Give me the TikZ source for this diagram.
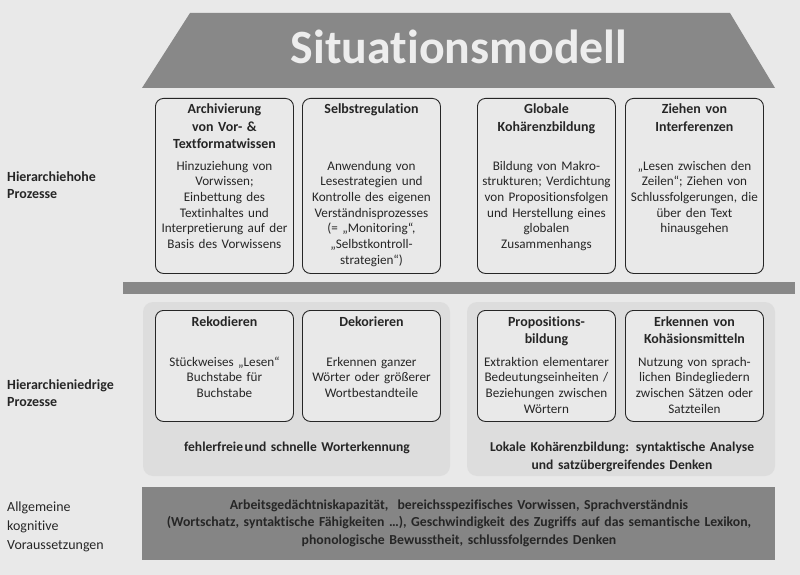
\documentclass[tikz,border=0pt]{standalone}
\usepackage{fontspec}
\setmainfont[Ligatures={NoCommon,NoContextual},RawFeature={-liga;-clig;-dlig}]{Carlito}
\usetikzlibrary{positioning}
\definecolor{bgcol}{HTML}{E9E9E9}
\definecolor{darkgrey}{HTML}{888888}
\definecolor{panelcol}{HTML}{DDDDDD}
\definecolor{textcol}{HTML}{262626}
\definecolor{titlecol}{HTML}{EDEDED}

\begin{document}
\begin{tikzpicture}[x=1bp,y=-1bp,
    procbox/.style={draw=textcol, line width=0.9bp, rounded corners=8bp, fill=bgcol,
        inner sep=0pt, minimum width=138bp, anchor=north west},
    boxtitle/.style={anchor=base, text width=136bp, align=center, inner sep=0pt,
        font=\fontsize{14}{17.5}\selectfont\bfseries, text=textcol},
    boxbody/.style={anchor=base, text width=138bp, align=center, inner sep=0pt,
        font=\fontsize{13.2}{15.8}\selectfont, text=textcol},
    sidelabel/.style={anchor=base west, align=left, inner sep=0pt, text=textcol}]

    \useasboundingbox[fill=bgcol] (0,0) rectangle (800,575);

    % Situationsmodell
    \fill[darkgrey] (190,13) -- (730,13) -- (775,88) -- (142,88) -- cycle;
    \node[text=titlecol, font=\fontsize{48}{50}\selectfont\bfseries] (sitmod) at (459,47) {Situationsmodell};

    % hierarchiehohe Prozesse
    \node[procbox, minimum height=175bp] (archiv) at (155,98) {};
    \node[procbox, minimum height=175bp] (selbst) at (302,98) {};
    \node[procbox, minimum height=175bp] (global) at (477,98) {};
    \node[procbox, minimum height=175bp] (interf) at (625,98) {};

    \node[boxtitle] (archivT) at ([yshift=-16bp]archiv.north) {Archivierung\\von Vor- \&\\Textformatwissen};
    \node[boxbody]  (archivB) at ([yshift=-72bp]archiv.north) {Hinzuziehung von\\Vorwissen;\\Einbettung des\\Textinhaltes und\\Interpretierung auf der\\Basis des Vorwissens};
    \node[boxtitle] (selbstT) at ([yshift=-16bp]selbst.north) {Selbstregulation};
    \node[boxbody]  (selbstB) at ([yshift=-72bp]selbst.north) {Anwendung von\\Lesestrategien und\\Kontrolle des eigenen\\Verständnisprozesses\\(= „Monitoring“,\\„Selbstkontroll-\\strategien“)};
    \node[boxtitle] (globalT) at ([yshift=-16bp]global.north) {Globale\\Kohärenzbildung};
    \node[boxbody]  (globalB) at ([yshift=-72bp]global.north) {Bildung von Makro-\\strukturen; Verdichtung\\von Propositionsfolgen\\und Herstellung eines\\globalen\\Zusammenhangs};
    \node[boxtitle] (interfT) at ([yshift=-16bp]interf.north) {Ziehen von\\Interferenzen};
    \node[boxbody]  (interfB) at ([yshift=-72bp]interf.north) {„Lesen zwischen den\\Zeilen“; Ziehen von\\Schlussfolgerungen, die\\über den Text\\hinausgehen};

    \fill[darkgrey] (123,282) rectangle (795,294);

    % hierarchieniedrige Prozesse
    \fill[panelcol, rounded corners=10bp] (143,302) rectangle (450,476);
    \fill[panelcol, rounded corners=10bp] (467,302) rectangle (775,476);

    \node[procbox, minimum height=111bp] (rekod) at (155,310) {};
    \node[procbox, minimum height=111bp] (dekor) at (302,310) {};
    \node[procbox, minimum height=111bp] (propo) at (477,310) {};
    \node[procbox, minimum height=111bp] (kohaes) at (625,310) {};

    \node[boxtitle] (rekodT) at ([yshift=-16bp]rekod.north) {Rekodieren};
    \node[boxbody]  (rekodB) at ([yshift=-56bp]rekod.north) {Stückweises „Lesen“\\Buchstabe für\\Buchstabe};
    \node[boxtitle] (dekorT) at ([yshift=-16bp]dekor.north) {Dekorieren};
    \node[boxbody]  (dekorB) at ([yshift=-56bp]dekor.north) {Erkennen ganzer\\Wörter oder größerer\\Wortbestandteile};
    \node[boxtitle] (propoT) at ([yshift=-16bp]propo.north) {Propositions-\\bildung};
    \node[boxbody]  (propoB) at ([yshift=-56bp]propo.north) {Extraktion elementarer\\Bedeutungseinheiten /\\Beziehungen zwischen\\Wörtern};
    \node[boxtitle] (kohaesT) at ([yshift=-16bp]kohaes.north) {Erkennen von\\Kohäsionsmitteln};
    \node[boxbody]  (kohaesB) at ([yshift=-56bp]kohaes.north) {Nutzung von sprach-\\lichen Bindegliedern\\zwischen Sätzen oder\\Satzteilen};

    \node[boxtitle, text width=300bp, font=\fontsize{13.6}{19}\selectfont\bfseries] (wortL) at (297,451) {fehlerfreie\hspace{1.5bp}und schnelle Worterkennung};
    \node[boxtitle, text width=300bp, font=\fontsize{13.6}{19}\selectfont\bfseries] (lokalL) at (622,451) {Lokale Kohärenzbildung: syntaktische Analyse\\und satzübergreifendes Denken};

    % Allgemeine Voraussetzungen
    \fill[darkgrey!98!black] (142,487) rectangle (775,560);
    \node[boxtitle, text width=620bp, font=\fontsize{13.8}{18}\selectfont\bfseries, text=black!85] (vorausB) at (459,509)
        {Arbeitsgedächtniskapazität,\ \ bereichsspezifisches Vorwissen, Sprachverständnis\\(Wortschatz, syntaktische Fähigkeiten …), Geschwindigkeit des Zugriffs auf das semantische Lexikon,\\phonologische Bewusstheit, schlussfolgerndes Denken};

    % Seitenbeschriftung
    \node[sidelabel, font=\fontsize{14}{18}\selectfont\bfseries] (hochL) at (7,199) {Hierarchiehohe\\Prozesse};
    \node[sidelabel, font=\fontsize{14}{17}\selectfont\bfseries] (niedrL) at (7,406) {Hierarchieniedrige\\Prozesse};
    \node[sidelabel, font=\fontsize{14}{19}\selectfont] (allgL) at (7,549) {Allgemeine\\kognitive\\Voraussetzungen};

\end{tikzpicture}
\end{document}
